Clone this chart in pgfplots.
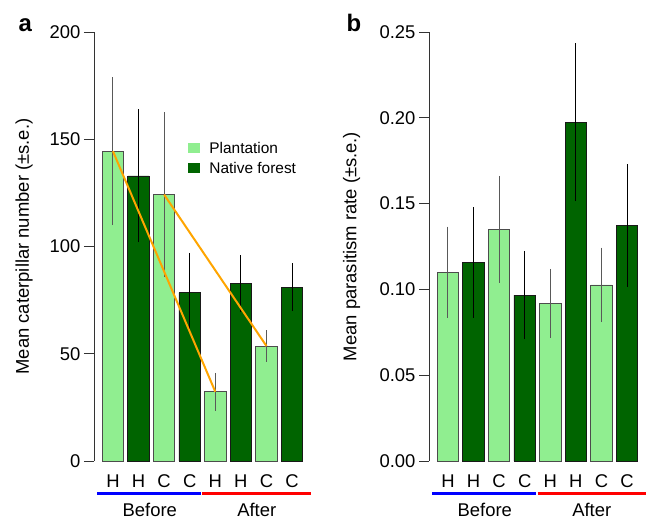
\documentclass[border=0pt]{standalone}
\usepackage{pgfplots}
\pgfplotsset{compat=1.18}
\usepackage{pgfplotstable}
\usepackage{fontspec}
\setmainfont{Liberation Sans}

\definecolor{plant}{HTML}{90EE90}
\definecolor{native}{HTML}{006400}
\definecolor{rorange}{HTML}{FFA500}

% caterpillar numbers, x = bar position (0..7)
\pgfplotstableread{
x y e
0 144.4 34.4
2 124.2 38.4
4 32.3 8.8
6 53.6 7.4
}\catplant
\pgfplotstableread{
x y e
1 132.9 31.0
3 78.5 18.5
5 82.8 13.2
7 81.1 11.1
}\catnative
% parasitism rates
\pgfplotstableread{
x y e
0 0.1101 0.0265
2 0.1350 0.0312
4 0.0919 0.0200
6 0.1026 0.0217
}\parplant
\pgfplotstableread{
x y e
1 0.1156 0.0322
3 0.0967 0.0258
5 0.1974 0.0460
7 0.1371 0.0357
}\parnative

\newcommand{\bigfont}{\fontsize{18.5}{22}\selectfont}

\pgfplotsset{
  panel/.style={
    scale only axis, width=217bp, height=429bp,
    xmin=-0.74, xmax=7.74, ymin=0,
    axis x line*=bottom, axis y line*=left, separate axis lines,
    x axis line style={draw=none},
    y axis line style={black!80, line width=0.8bp},
    xtick={0,...,7}, xticklabels={H,H,C,C,H,H,C,C},
    major x tick style={draw=none},
    tick align=outside, major tick length=10bp,
    ytick style={black!80, line width=0.8bp},
    tick label style={font=\bigfont},
    /pgf/number format/assume math mode=true,
    clip=false,
    every axis y label/.style={rotate=90, anchor=center, font=\bigfont},
  },
  plantbar/.style={ybar, bar shift=0pt, bar width=0.837, fill=plant,
    draw=black!70, line width=0.8bp,
    error bars/.cd, y dir=both, y explicit, error mark=none,
    error bar style={black!65, line width=0.9bp}},
  nativebar/.style={ybar, bar shift=0pt, bar width=0.837, fill=native,
    draw=black!90, line width=0.8bp,
    error bars/.cd, y dir=both, y explicit, error mark=none,
    error bar style={black, line width=0.9bp}},
}

\newcommand{\periods}{%
  \draw[blue, line width=3bp] ([yshift=-32bp]axis cs:-0.62,0) -- ([yshift=-32bp]axis cs:3.46,0);
  \draw[red, line width=3bp] ([yshift=-32bp]axis cs:3.50,0) -- ([yshift=-32bp]axis cs:7.74,0);
  \node[font=\bigfont, anchor=base] at ([yshift=-55bp]axis cs:1.44,0) {Before};
  \node[font=\bigfont, anchor=base] at ([yshift=-55bp]axis cs:5.62,0) {After};
}

\begin{document}
\begin{tikzpicture}
\path[use as bounding box] (0,0) rectangle (654bp,520bp);

\begin{axis}[panel,
  at={(94bp,59bp)}, anchor=south west,
  ymax=200, ytick={0,50,100,150,200},
  ylabel={Mean caterpillar number (±s.e.)},
  every axis y label/.append style={at={(axis description cs:-0.3226,0.5)}},
  legend style={at={(axis description cs:0.434,0.749)}, anchor=north west,
    draw=none, fill=none, inner sep=0pt, font=\fontsize{15.5}{18}\selectfont,
    row sep=3.5bp, /tikz/every odd column/.append style={column sep=7bp}},
  legend cell align=left,
  legend image code/.code={\fill[#1, draw=none] (0bp,-5bp) rectangle (12bp,5bp);},
]
\addplot[plantbar] table[x=x, y=y, y error=e] {\catplant};
\addlegendentry{Plantation}
\addplot[nativebar] table[x=x, y=y, y error=e] {\catnative};
\addlegendentry{Native forest}
\addplot[rorange, line width=2bp, no marks, forget plot] coordinates {(0,144.4) (4,32.3)};
\addplot[rorange, line width=2bp, no marks, forget plot] coordinates {(2,124.2) (6,53.6)};
\periods
\node[font=\fontsize{24}{28}\selectfont\bfseries, anchor=base west] at (axis description cs:-0.364,1) {a};
\end{axis}

\begin{axis}[panel,
  at={(429bp,59bp)}, anchor=south west,
  ymax=0.25, ytick={0,0.05,0.10,0.15,0.20,0.25},
  yticklabel style={/pgf/number format/.cd, fixed, fixed zerofill, precision=2},
  ylabel={Mean parasitism rate (±s.e.)},
  every axis y label/.append style={at={(axis description cs:-0.357,0.5)}},
]
\addplot[plantbar] table[x=x, y=y, y error=e] {\parplant};
\addplot[nativebar] table[x=x, y=y, y error=e] {\parnative};
\periods
\node[font=\fontsize{24}{28}\selectfont\bfseries, anchor=base west] at (axis description cs:-0.396,1) {b};
\end{axis}
\end{tikzpicture}
\end{document}
